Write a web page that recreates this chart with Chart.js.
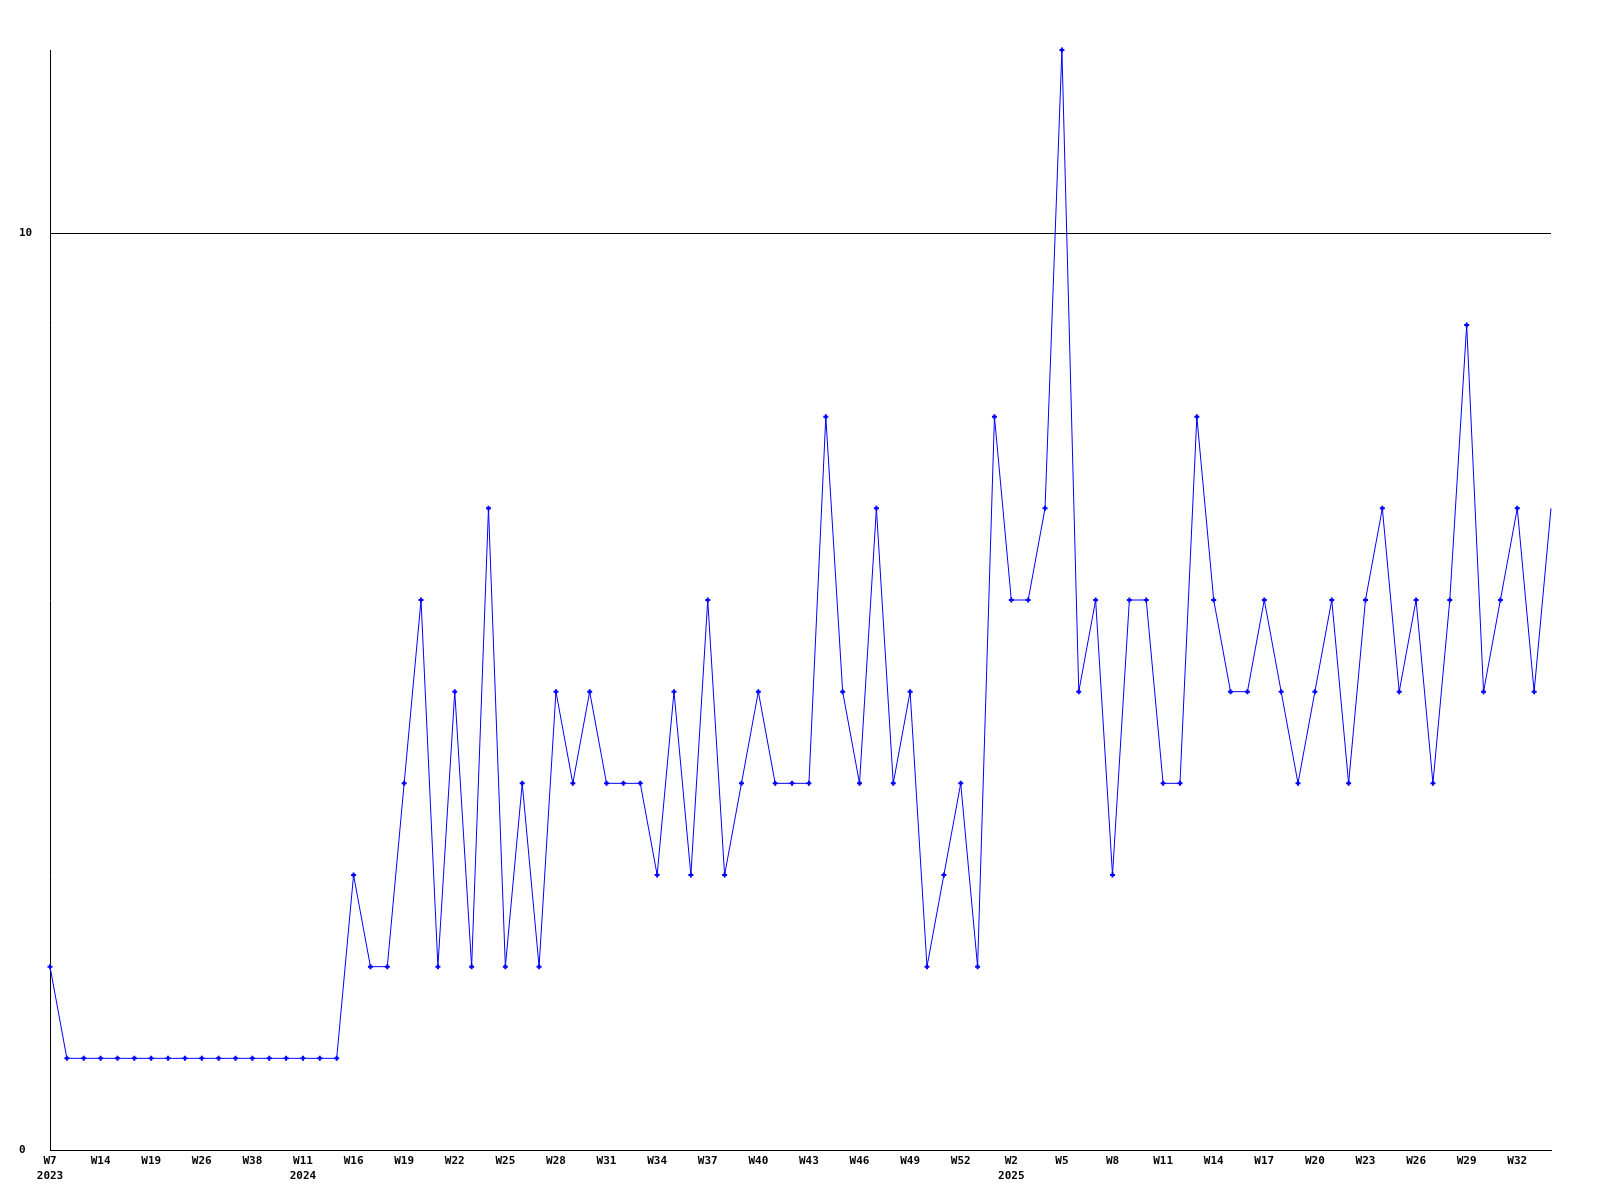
<!DOCTYPE html>
<html lang="en">
<head>
    <meta charset="UTF-8">
    <title>Weekly count</title>
    <script src="https://cdn.jsdelivr.net/npm/chart.js"></script>
    <style>
        body {
            margin: 0;
            padding: 0;
            background-color: #ffffff;
        }
        canvas {
            display: block;
        }
    </style>
</head>
<body>
    <canvas id="weekChart" width="1600" height="1200"></canvas>

    <script>
        // one value per week that has data, evenly spaced on the x axis
        const weekValues = [
            2, 1, 1, 1, 1, 1, 1, 1, 1, 1,
            1, 1, 1, 1, 1, 1, 1, 1, 3, 2,
            2, 4, 6, 2, 5, 2, 7, 2, 4, 2,
            5, 4, 5, 4, 4, 4, 3, 5, 3, 6,
            3, 4, 5, 4, 4, 4, 8, 5, 4, 7,
            4, 5, 2, 3, 4, 2, 8, 6, 6, 7,
            12, 5, 6, 3, 6, 6, 4, 4, 8, 6,
            5, 5, 6, 5, 4, 5, 6, 4, 6, 7,
            5, 6, 4, 6, 9, 5, 6, 7, 5, 7
        ];

        // labels shown under every third point
        const tickWeeks = [
            'W7', 'W14', 'W19', 'W26', 'W38', 'W11', 'W16', 'W19', 'W22', 'W25',
            'W28', 'W31', 'W34', 'W37', 'W40', 'W43', 'W46', 'W49', 'W52', 'W2',
            'W5', 'W8', 'W11', 'W14', 'W17', 'W20', 'W23', 'W26', 'W29', 'W32'
        ];
        const tickYears = [
            '2023', '', '', '', '', '2024', '', '', '', '',
            '', '', '', '', '', '', '', '', '', '2025',
            '', '', '', '', '', '', '', '', '', ''
        ];
        const tickEvery = 3;
        const yTicks = [0, 10];

        const labelFont = { family: 'DejaVu Sans Mono', size: 11, weight: 'bold', lineHeight: 1.36 };

        const ctx = document.getElementById('weekChart').getContext('2d');

        new Chart(ctx, {
            type: 'line',
            data: {
                datasets: [{
                    data: weekValues.map((v, i) => ({ x: i, y: v })),
                    borderColor: '#0000ff',
                    backgroundColor: '#0000ff',
                    borderWidth: 1,
                    pointStyle: 'cross',
                    // last week sits on the right edge without a marker
                    pointRadius: (c) => c.dataIndex === weekValues.length - 1 ? 0 : 2.5,
                    pointBorderWidth: 2,
                    pointBorderColor: '#0000ff',
                    tension: 0,
                    fill: false,
                    clip: false
                }]
            },
            options: {
                responsive: false,
                animation: false,
                layout: {
                    padding: { left: 19, right: 49, top: 50, bottom: 0 }
                },
                plugins: {
                    legend: { display: false },
                    tooltip: { enabled: false }
                },
                scales: {
                    x: {
                        type: 'linear',
                        min: 0,
                        max: weekValues.length - 1,
                        afterBuildTicks: (axis) => {
                            axis.ticks = tickWeeks.map((w, k) => ({ value: k * tickEvery }));
                        },
                        afterFit: (axis) => { axis.height = 50; },
                        grid: { display: false, drawTicks: false },
                        border: { display: true, color: '#000000', width: 1 },
                        ticks: {
                            autoSkip: false,
                            maxRotation: 0,
                            padding: 4,
                            color: '#000000',
                            font: labelFont,
                            callback: (value) => {
                                const k = Math.round(value / tickEvery);
                                return tickYears[k] ? [tickWeeks[k], tickYears[k]] : tickWeeks[k];
                            }
                        }
                    },
                    y: {
                        min: 0,
                        max: 12,
                        afterBuildTicks: (axis) => {
                            axis.ticks = yTicks.map(v => ({ value: v }));
                        },
                        afterFit: (axis) => { axis.width = 31; },
                        grid: {
                            color: '#000000',
                            lineWidth: 1,
                            drawTicks: false
                        },
                        border: { display: true, color: '#000000', width: 1 },
                        ticks: {
                            crossAlign: 'far',
                            padding: 0,
                            color: '#000000',
                            font: labelFont
                        }
                    }
                }
            }
        });
    </script>
</body>
</html>
